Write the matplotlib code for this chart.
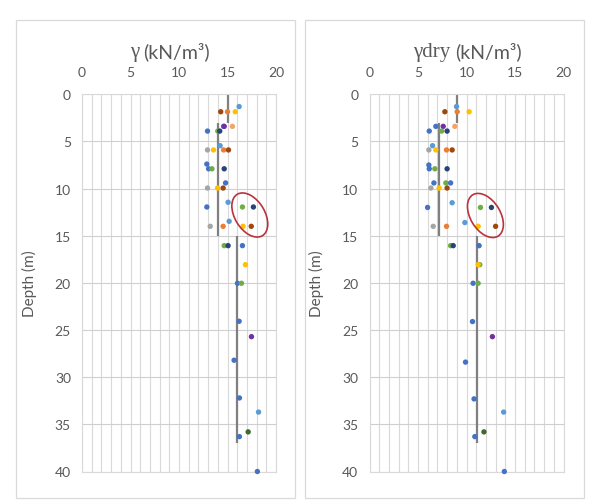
import matplotlib
matplotlib.use("Agg")
import matplotlib.pyplot as plt
from matplotlib.patches import Ellipse, Rectangle
from matplotlib.ticker import MultipleLocator

# ---- data -------------------------------------------------------------------
# unit weight (gamma), one entry per test: depth (m), value (kN/m3), borehole
g_depth = [1.3, 1.85, 1.85, 1.85, 3.4, 3.4, 3.4, 3.9, 3.9, 3.9, 5.45, 5.9, 5.9,
           5.9, 5.9, 7.4, 7.9, 7.9, 7.9, 9.4, 9.94, 9.94, 9.94, 11.45, 11.95,
           11.95, 11.95, 13.47, 14.0, 14.0, 14.0, 14.0, 16.05, 16.05, 16.05,
           18.07, 20.04, 20.04, 24.07, 25.7, 28.2, 32.2, 33.7, 35.8, 36.3, 40.0]
g_value = [16.2, 14.3, 15.0, 15.8, 14.6, 14.66, 15.5, 12.94, 14.0, 14.2, 14.24,
           12.94, 13.56, 14.6, 15.1, 12.87, 13.05, 13.4, 14.66, 14.8, 12.94,
           13.97, 14.55, 15.06, 12.87, 16.54, 17.67, 15.17, 13.22, 14.55, 16.6,
           17.45, 14.66, 15.06, 16.54, 16.85, 16.03, 16.44, 16.2, 17.47, 15.68,
           16.23, 18.2, 17.13, 16.23, 18.08]
g_hole = ["lblue", "brown", "orange", "yellow", "blue", "purple", "lorange",
          "blue", "green", "navy", "lblue", "gray", "yellow", "orange", "brown",
          "blue", "blue", "green", "navy", "blue", "gray", "yellow", "brown",
          "lblue", "blue", "green", "navy", "lblue", "gray", "orange", "yellow",
          "brown", "green", "navy", "blue", "yellow", "blue", "green", "blue",
          "purple", "blue", "blue", "lblue", "olive", "blue", "blue"]

# dry unit weight (gamma dry)
d_depth = [1.3, 1.85, 1.85, 1.85, 3.4, 3.4, 3.4, 3.9, 3.9, 3.9, 5.45, 5.9, 5.9,
           5.9, 5.9, 7.5, 7.9, 7.9, 7.9, 9.4, 9.4, 9.4, 9.94, 9.94, 9.94, 11.5,
           12.0, 12.0, 12.0, 13.6, 14.0, 14.0, 14.0, 14.0, 16.05, 16.05, 16.05,
           18.07, 18.07, 20.04, 20.04, 24.1, 25.7, 28.4, 32.3, 33.7, 35.8, 36.3,
           40.0]
d_value = [8.97, 7.77, 9.04, 10.27, 6.84, 7.6, 8.8, 6.16, 7.43, 8.0, 6.5, 6.12,
           6.84, 7.94, 8.52, 6.12, 6.16, 6.74, 8.0, 6.64, 7.87, 8.36, 6.33, 7.18,
           8.0, 8.52, 5.99, 11.44, 12.57, 9.83, 6.57, 7.94, 11.2, 13.0, 8.36,
           8.63, 11.3, 11.37, 11.2, 10.68, 11.2, 10.62, 12.67, 9.9, 10.78, 13.83,
           11.8, 10.86, 13.9]
d_hole = ["lblue", "brown", "orange", "yellow", "blue", "purple", "lorange",
          "blue", "green", "navy", "lblue", "gray", "yellow", "orange", "brown",
          "blue", "blue", "green", "navy", "blue", "green", "blue", "gray",
          "yellow", "brown", "lblue", "blue", "green", "navy", "lblue", "gray",
          "orange", "yellow", "brown", "green", "navy", "blue", "green", "yellow",
          "blue", "green", "blue", "purple", "blue", "blue", "lblue", "olive",
          "blue", "blue"]

# layer averages: value, top depth, bottom depth
g_mean = [15.0, 14.0, 16.0]
d_mean = [9.0, 7.2, 11.1]
mean_top = [0, 3, 15]
mean_bot = [3, 15, 37]

COLORS = {"blue": "#4472C4", "lblue": "#5B9BD5", "orange": "#ED7D31",
          "lorange": "#F4A36B", "gray": "#A5A5A5", "yellow": "#FFC000",
          "green": "#70AD47", "navy": "#264478", "brown": "#9E480E",
          "purple": "#7030A0", "olive": "#43682B"}

TXT = "#595959"
GRID = "#D9D9D9"

plt.rcParams["font.family"] = ["Lato", "DejaVu Sans"]

fig = plt.figure(figsize=(6.0, 5.02), dpi=100)

# chart-area frames
for x0 in (16 / 600, 305 / 600):
    fig.add_artist(Rectangle((x0, 3 / 502), 279 / 600, 478 / 502,
                             transform=fig.transFigure, fill=False,
                             ec=GRID, lw=0.9))


def panel(left, depth, value, hole, mean, ell_center):
    ax = fig.add_axes([left / 600, 29.5 / 502, 194 / 600, 377.2 / 502])
    ax.set_xlim(0, 20)
    ax.set_ylim(40, 0)
    ax.xaxis.tick_top()
    ax.xaxis.set_major_locator(MultipleLocator(5))
    ax.xaxis.set_minor_locator(MultipleLocator(1))
    ax.yaxis.set_major_locator(MultipleLocator(5))
    ax.grid(which="minor", axis="x", color=GRID, lw=0.8)
    ax.grid(which="major", axis="x", color=GRID, lw=0.8)
    ax.grid(which="major", axis="y", color="#CFCFCF", lw=0.8)
    ax.tick_params(which="both", length=0, labelsize=10, labelcolor=TXT)
    ax.tick_params(axis="x", pad=12)
    ax.tick_params(axis="y", pad=8)
    for s in ax.spines.values():
        s.set_color(GRID)
        s.set_linewidth(0.8)
    ax.set_axisbelow(True)

    ax.vlines(mean, mean_top, mean_bot, color="#808080", lw=1.6, zorder=2)
    ax.scatter(value, depth, c=[COLORS[h] for h in hole], s=15,
               linewidths=0, zorder=3, clip_on=False)
    ax.add_patch(Ellipse(ell_center, 5.1, 3.1, angle=60, fill=False,
                         ec="#B8333E", lw=1.2, zorder=4))

    ax.set_ylabel("Depth (m)", fontsize=11, color=TXT)
    ax.yaxis.set_label_coords(-0.232, 0.5)
    return ax


panel(82, g_depth, g_value, g_hole, g_mean, (17.3, 12.8))
panel(369.5, d_depth, d_value, d_hole, d_mean, (11.95, 12.85))

# titles: gamma symbol in a serif face, units in sans
ty = 1 - 52 / 502
fig.text(139 / 600, ty, "γ", family="Liberation Serif", fontsize=15,
         color=TXT, ha="right", va="center")
fig.text(143 / 600, ty, "(kN/m³)", fontsize=14, color=TXT,
         ha="left", va="center")
fig.text(450 / 600, ty, "γdry", family="Liberation Serif", fontsize=15,
         color=TXT, ha="right", va="center")
fig.text(455 / 600, ty, "(kN/m³)", fontsize=14, color=TXT,
         ha="left", va="center")

fig.savefig("out.png", dpi=100)
